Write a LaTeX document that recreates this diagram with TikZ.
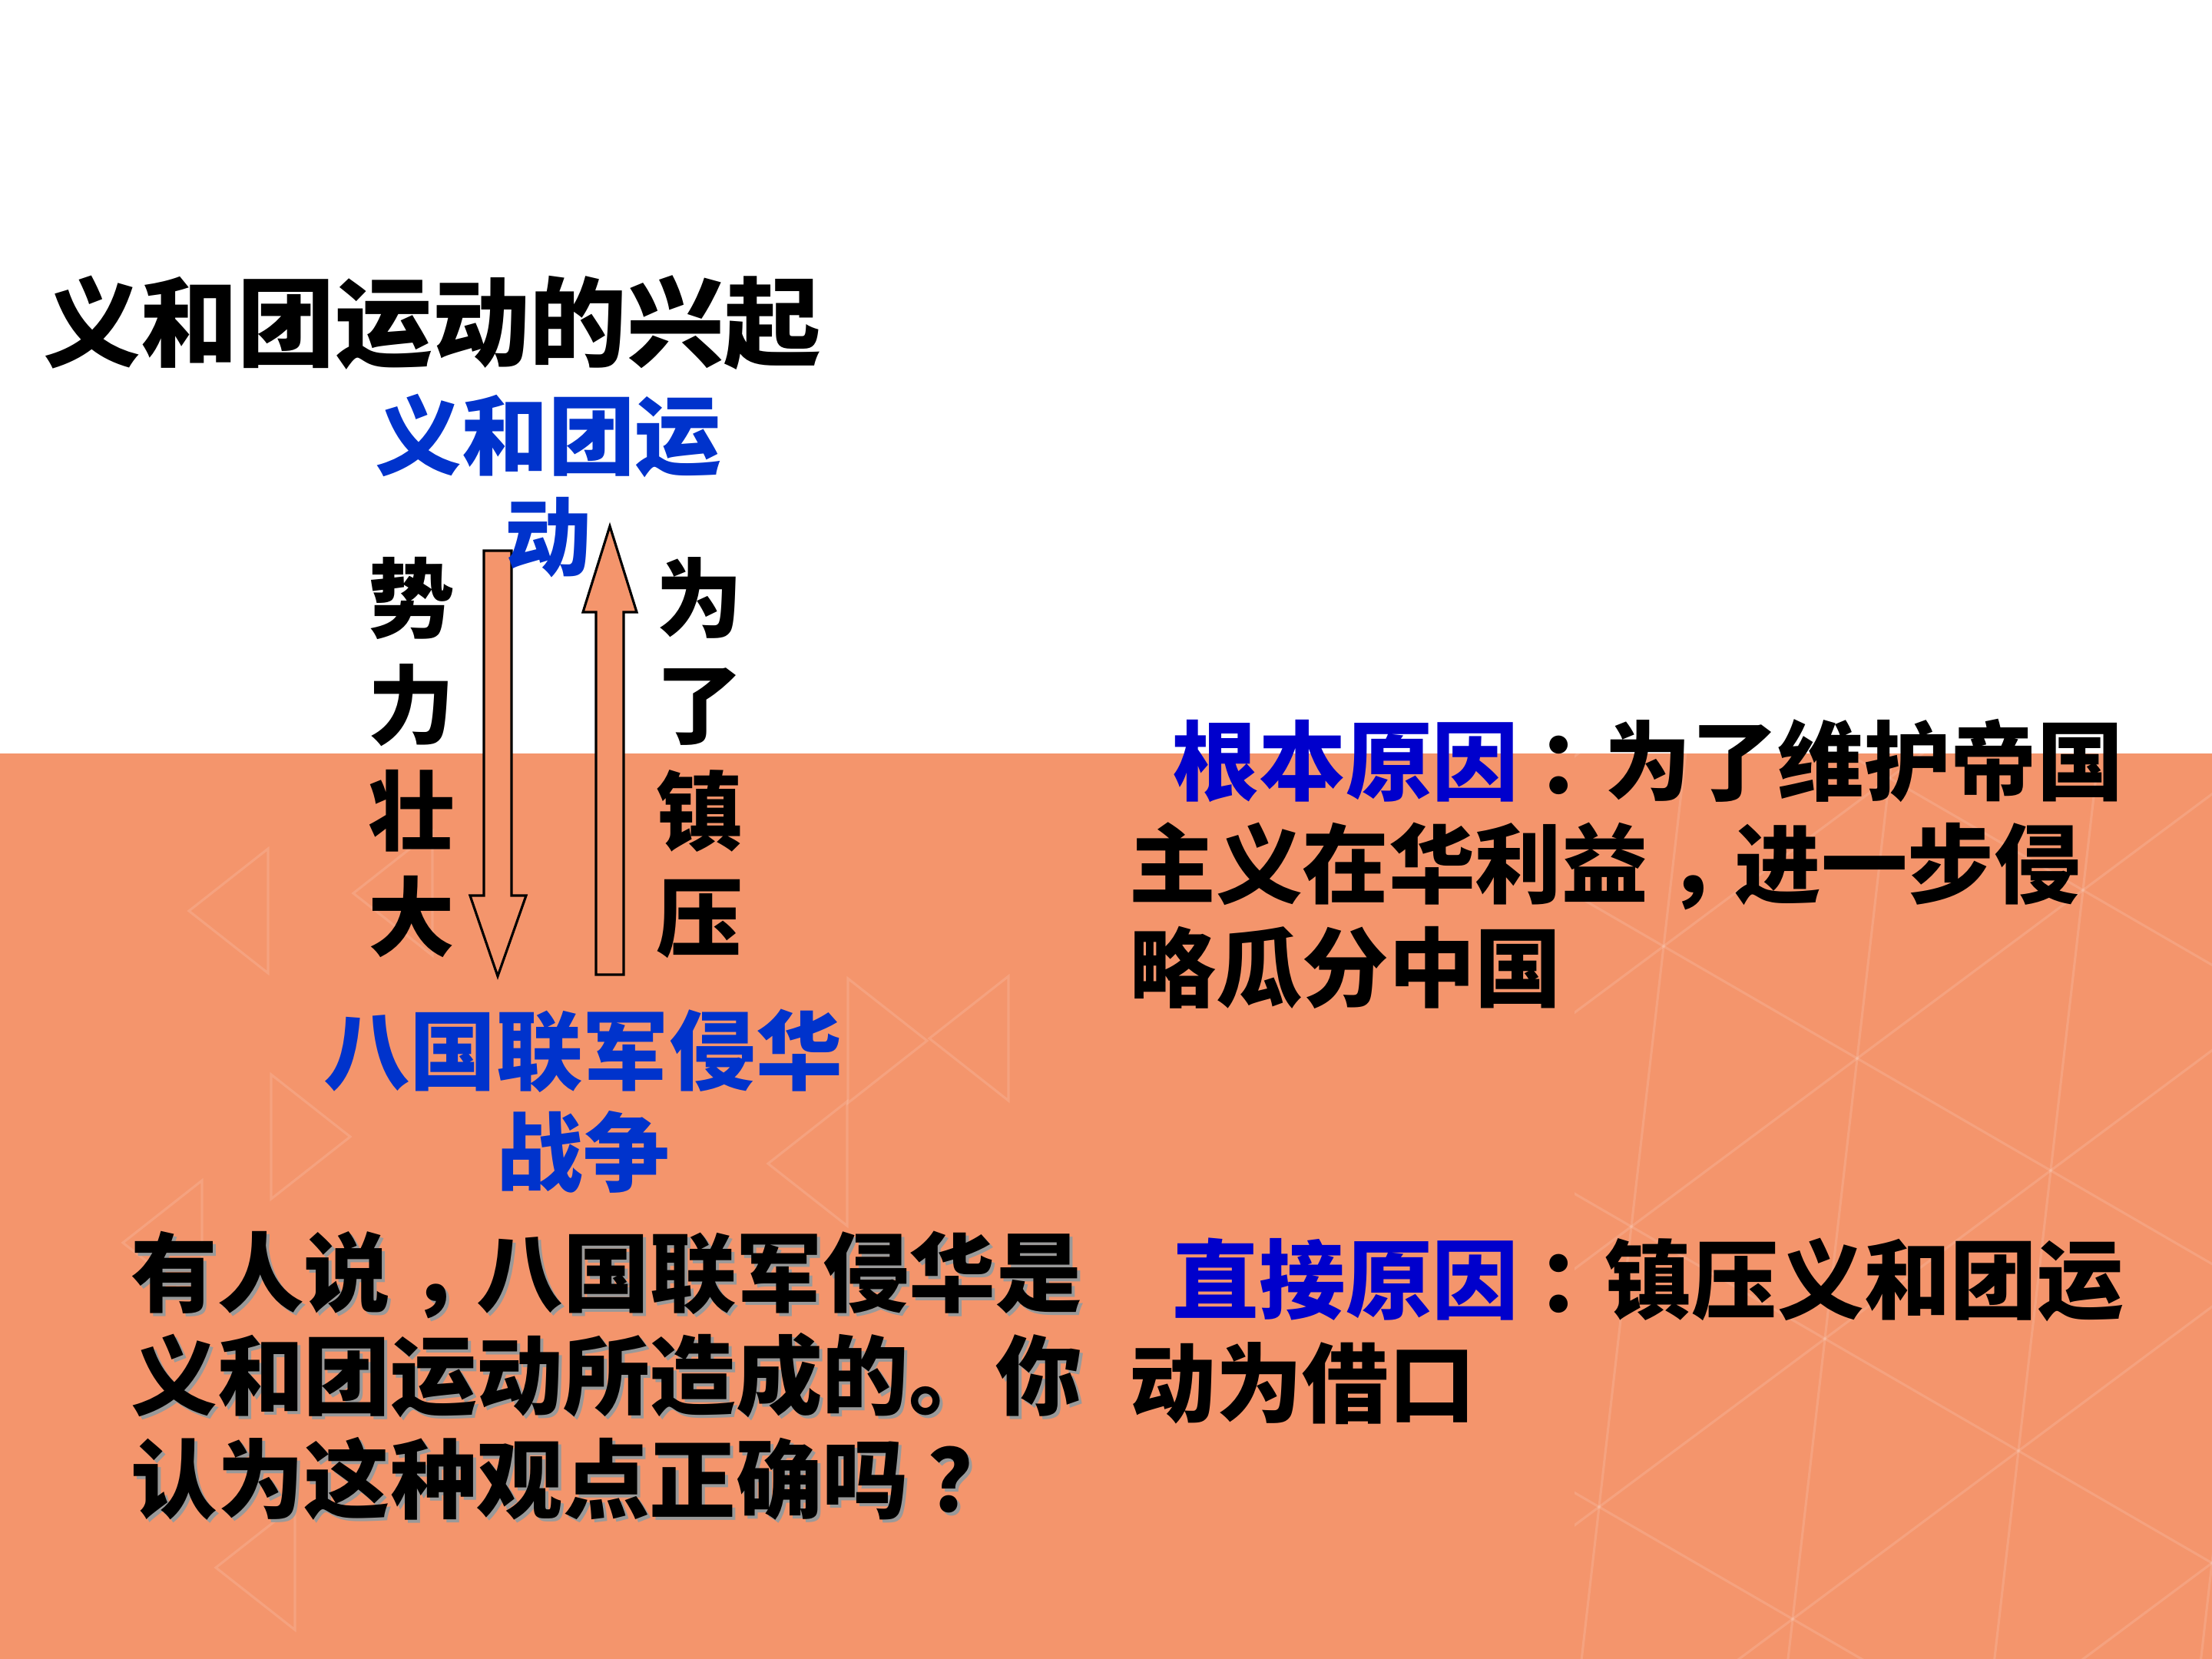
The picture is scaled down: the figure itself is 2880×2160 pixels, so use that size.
\documentclass[tikz,border=0pt]{standalone}
\usepackage{fontspec}
\usepackage{xcolor}
\newfontfamily\cjk{Noto Sans CJK SC}[BoldFont={* Black}]
\definecolor{slideorange}{HTML}{F4956C}
\definecolor{headblue}{HTML}{0033CC}
\definecolor{causeblue}{HTML}{0000CC}

% full-width punctuation sits in the middle of its square on the slide
\newcommand{\cpunct}[1]{\hspace*{0.22em}#1\hspace*{-0.22em}}
\newcommand{\questiontext}{有人说\cpunct{，}八国联军侵华是\\义和团运动所造成的。你\\认为这种观点正确吗\cpunct{？}}

\begin{document}
\begin{tikzpicture}[
    x=0.01cm, y=-0.01cm,
    heading/.style={inner sep=0pt, anchor=north west, font=\cjk\bfseries\fontsize{36}{43}\selectfont},
    bluelabel/.style={inner sep=0pt, anchor=north, align=center, text=headblue, font=\cjk\bfseries\fontsize{32}{37.5}\selectfont},
    sidelabel/.style={inner sep=0pt, anchor=north, align=center, font=\cjk\bfseries\fontsize{32}{39.3}\selectfont},
    bodytext/.style={inner sep=0pt, anchor=north west, align=left, font=\cjk\bfseries\fontsize{32}{38.3}\selectfont},
    blockarrow/.style={draw=black, line width=0.9pt, fill=slideorange, line join=miter},
    meshline/.style={draw=white, opacity=0.13, line width=0.9pt}
]
    % slide background
    \fill[white] (0,0) rectangle (2880,2160);
    \fill[slideorange] (0,981) rectangle (2880,2160);
    \useasboundingbox (0,0) rectangle (2880,2160);

    % faint triangle mesh on the right
    \begin{scope}
        \clip (2050,981) rectangle (2880,2160);
        \foreach \i in {-2,...,3} {
            \foreach \j in {-2,...,3} {
                \draw[meshline] ({2166+252*\i-42*\j},{1232+146*\i+365*\j}) -- ++(252,146);
                \draw[meshline] ({2166+252*\i-42*\j},{1232+146*\i+365*\j}) -- ++(-42,365);
                \draw[meshline] ({2166+252*\i-42*\j},{1232+146*\i+365*\j}) -- ++(294,-219);
            }
        }
    \end{scope}

    % small faint triangles on the left
    \foreach \ex/\ey/\dir in {353/1480/1, 1103/1515/-1, 1313/1352/-1, 263/1618/-1, 384/2041/-1, 563/1163/-1, 1104/1355/1, 349/1186/-1} {
        \draw[meshline] (\ex,{\ey-81}) -- (\ex,{\ey+81}) -- ({\ex+(\dir)*103},\ey) -- cycle;
    }

    % block arrows between the two events
    \draw[blockarrow] (630,717) -- (666,717) -- (666,1166) -- (685,1166) -- (648,1271) -- (612,1166) -- (630,1166) -- cycle;
    \draw[blockarrow] (776,1269) -- (812,1269) -- (812,797) -- (829,797) -- (794,685) -- (759,797) -- (776,797) -- cycle;

    \node[heading] (title) at (56,358) {义和团运动的兴起};
    \node[bluelabel] (boxer) at (714,512) {义和团运\\动};
    \node[sidelabel] (grow) at (536,725) {势\\力\\壮\\大};
    \node[sidelabel] (suppress) at (911,725) {为\\了\\镇\\压};
    \node[bluelabel] (allied) at (759,1313) {八国联军侵华\\战争};

    % causes on the right
    \node[bodytext] (rootcause) at (1470,935) {\hspace*{0.5em}\textcolor{causeblue}{根本原因}\cpunct{：}为了维护帝国\\主义在华利益\cpunct{，}进一步侵\\略瓜分中国};
    \node[bodytext] (directcause) at (1470,1611) {\hspace*{0.5em}\textcolor{causeblue}{直接原因}\cpunct{：}镇压义和团运\\动为借口};

    % question with its shadow
    \node[bodytext, text=black!40] (questionshadow) at (174,1606) {\questiontext};
    \node[bodytext] (question) at (170,1602) {\questiontext};

\end{tikzpicture}
\end{document}
